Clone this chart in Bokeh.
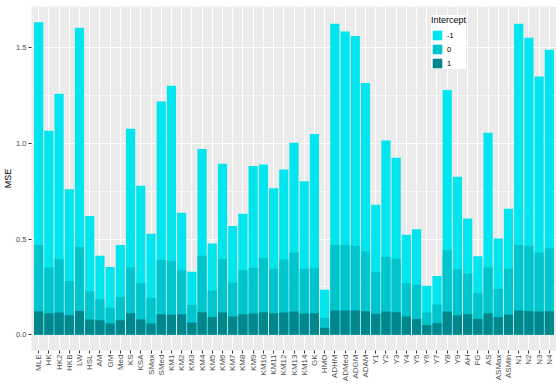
import math
from bokeh.plotting import figure
from bokeh.models import (ColumnDataSource, FactorRange, Range1d, FixedTicker,
                          Legend, LegendItem)
from bokeh.embed import file_html
from bokeh.resources import INLINE

categories = ["MLE", "HK", "HK2", "HKB", "LW", "HSL", "AM", "GM", "Med", "KS",
              "KSA", "SMax", "SMed", "KM1", "KM2", "KM3", "KM4", "KM5", "KM6", "KM7",
              "KM8", "KM9", "KM10", "KM11", "KM12", "KM13", "KM14", "GK", "HMO", "ADHM",
              "ADMed", "ADGM", "ADAM", "Y1", "Y2", "Y3", "Y4", "Y5", "Y6", "Y7",
              "Y8", "Y9", "AH", "FG", "AS", "ASMax", "ASMin", "N1", "N2", "N3", "N4"]

# MSE for intercept = -1
mse_m1 = [1.633, 1.066, 1.259, 0.760, 1.604, 0.621, 0.413, 0.354, 0.469, 1.076,
          0.778, 0.528, 1.218, 1.301, 0.638, 0.330, 0.970, 0.477, 0.893, 0.569,
          0.633, 0.882, 0.890, 0.765, 0.863, 1.003, 0.802, 1.049, 0.235, 1.624,
          1.584, 1.560, 1.315, 0.679, 1.015, 0.925, 0.523, 0.552, 0.257, 0.308,
          1.279, 0.826, 0.607, 0.411, 1.056, 0.503, 0.658, 1.624, 1.552, 1.349, 1.489]
# MSE for intercept = 0
mse_0 = [0.469, 0.352, 0.396, 0.281, 0.460, 0.228, 0.186, 0.142, 0.198, 0.352,
         0.271, 0.193, 0.391, 0.384, 0.338, 0.156, 0.413, 0.232, 0.396, 0.274,
         0.338, 0.350, 0.401, 0.345, 0.393, 0.430, 0.345, 0.350, 0.088, 0.469,
         0.469, 0.465, 0.435, 0.330, 0.406, 0.397, 0.271, 0.262, 0.117, 0.159,
         0.442, 0.342, 0.320, 0.217, 0.352, 0.240, 0.345, 0.469, 0.464, 0.430, 0.452]
# MSE for intercept = 1
mse_1 = [0.123, 0.113, 0.117, 0.102, 0.125, 0.080, 0.076, 0.059, 0.076, 0.113,
         0.080, 0.059, 0.108, 0.105, 0.107, 0.064, 0.118, 0.093, 0.117, 0.096,
         0.108, 0.112, 0.118, 0.113, 0.117, 0.122, 0.112, 0.113, 0.037, 0.127,
         0.127, 0.127, 0.123, 0.110, 0.122, 0.118, 0.096, 0.083, 0.051, 0.061,
         0.122, 0.103, 0.108, 0.083, 0.113, 0.093, 0.105, 0.127, 0.125, 0.122, 0.123]

intercepts = ["-1", "0", "1"]
colors = ["#00E5EE", "#00C5CD", "#00868B"]
y_ticks = [0.0, 0.5, 1.0, 1.5]
y_minor = [0.25, 0.75, 1.25]
y_tick_labels = ["0.0", "0.5", "1.0", "1.5"]

FONT = "Liberation Sans"

src = ColumnDataSource(dict(cat=categories, m1=mse_m1, z=mse_0, p1=mse_1))

ymax = max(mse_m1)
p = figure(width=556, height=384,
           x_range=FactorRange(factors=categories, range_padding=0.2,
                               range_padding_units="absolute"),
           y_range=Range1d(-0.05 * ymax, 1.05 * ymax),
           output_backend="svg", toolbar_location=None,
           min_border_left=0, min_border_right=0, min_border_top=6,
           min_border_bottom=0)

p.background_fill_color = "#EBEBEB"
p.border_fill_color = "white"
p.outline_line_color = None

ticker = FixedTicker(ticks=y_ticks, minor_ticks=y_minor)
p.yaxis.ticker = ticker
p.ygrid.ticker = ticker
p.ygrid.grid_line_color = "white"
p.ygrid.grid_line_width = 1.1
p.ygrid.minor_grid_line_color = "white"
p.ygrid.minor_grid_line_width = 0.55
p.xgrid.grid_line_color = "white"
p.xgrid.grid_line_width = 1.1
p.yaxis.major_label_overrides = {t: l for t, l in zip(y_ticks, y_tick_labels)}

for ax in (p.xaxis[0], p.yaxis[0]):
    ax.axis_line_color = None
    ax.major_tick_line_color = "#333333"
    ax.major_tick_out = 3
    ax.major_tick_in = 0
    ax.minor_tick_line_color = None
    ax.major_label_text_color = "#4D4D4D"
    ax.major_label_text_font = FONT
    ax.major_label_standoff = 1
p.yaxis.major_label_text_font_size = "7.5px"
p.yaxis.axis_label = "MSE"
p.yaxis.axis_label_text_font = FONT
p.yaxis.axis_label_text_font_size = "9px"
p.yaxis.axis_label_text_font_style = "normal"
p.yaxis.axis_label_text_color = "#000000"
p.yaxis.axis_label_standoff = 0
p.xaxis.major_label_text_font_size = "8px"
p.xaxis.major_label_orientation = math.pi / 2

r1 = p.vbar(x="cat", top="m1", bottom=0, width=0.9, source=src,
            fill_color=colors[0], line_color=None)
r2 = p.vbar(x="cat", top="z", bottom=0, width=0.9, source=src,
            fill_color=colors[1], line_color=None)
r3 = p.vbar(x="cat", top="p1", bottom=0, width=0.9, source=src,
            fill_color=colors[2], line_color=None)

legend = Legend(items=[LegendItem(label=intercepts[0], renderers=[r1]),
                       LegendItem(label=intercepts[1], renderers=[r2]),
                       LegendItem(label=intercepts[2], renderers=[r3])],
                title="Intercept", location=(400, 281))
legend.title_text_font = FONT
legend.title_text_font_size = "9px"
legend.title_text_font_style = "normal"
legend.title_text_color = "#000000"
legend.title_standoff = 4
legend.label_text_font = FONT
legend.label_text_font_size = "7.5px"
legend.label_text_color = "#000000"
legend.glyph_width = 12
legend.glyph_height = 12
legend.label_height = 12
legend.label_standoff = 4
legend.label_width = 14
legend.spacing = 2
legend.padding = 5
legend.margin = 0
legend.border_line_color = None
legend.background_fill_color = "white"
legend.background_fill_alpha = 1.0
p.add_layout(legend)

open("out.html", "w").write(file_html(p, INLINE))
